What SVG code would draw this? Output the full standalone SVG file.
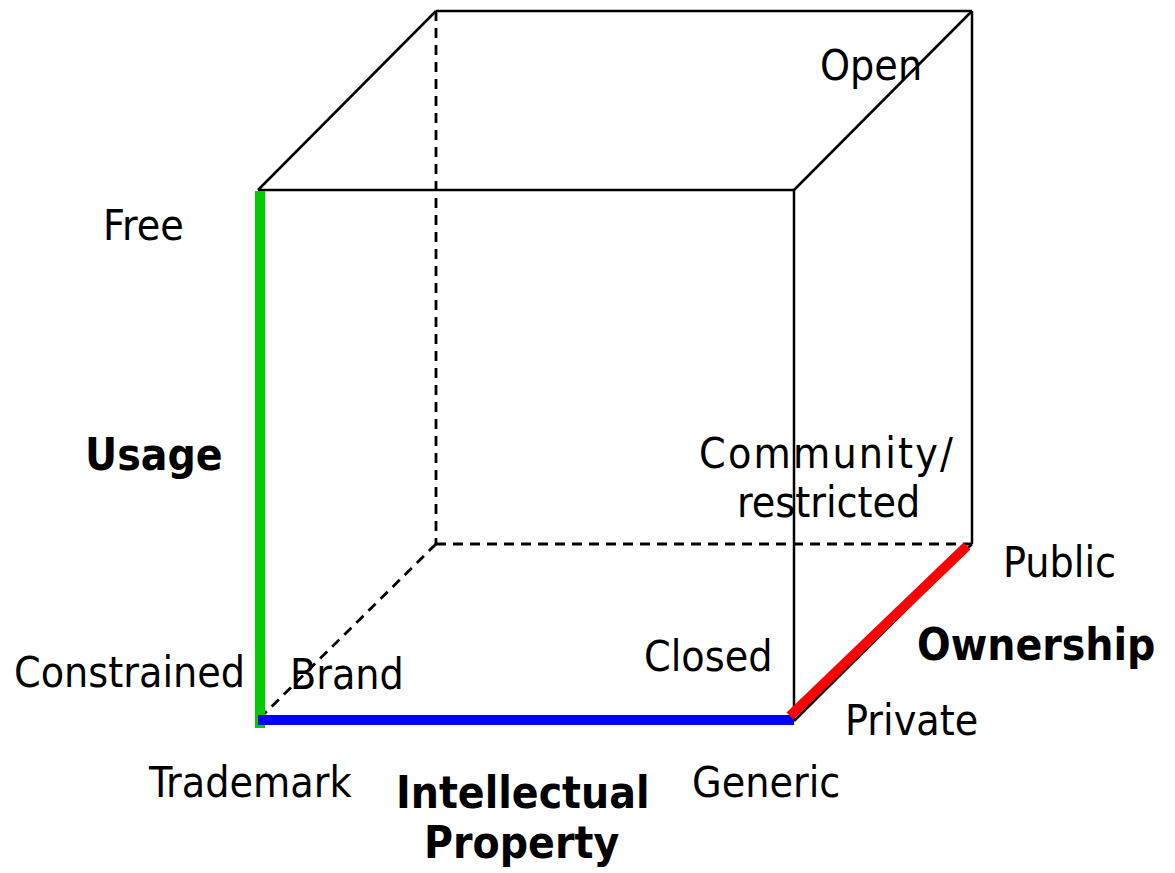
<svg xmlns="http://www.w3.org/2000/svg" width="1175" height="873" viewBox="0 0 1175 873">
<style>
.e{stroke:#000;stroke-width:2.5;fill:none}
.d{stroke:#000;stroke-width:2.8;fill:none;stroke-dasharray:10 7}
.t{font-family:"DejaVu Sans Condensed","DejaVu Sans",sans-serif;font-stretch:condensed;font-size:42.5px;fill:#000}
.b{font-family:"DejaVu Sans Condensed","DejaVu Sans",sans-serif;font-stretch:condensed;font-size:44px;font-weight:bold;fill:#000}
</style>
<rect width="1175" height="873" fill="#fff"/>
<g id="cube">
<line class="d" x1="436" y1="11" x2="436" y2="544"/>
<line class="d" x1="436" y1="544" x2="972" y2="544"/>
<line class="d" x1="436" y1="544" x2="258" y2="720"/>
<line class="e" x1="436" y1="11" x2="972" y2="11"/>
<line class="e" x1="972" y1="11" x2="972" y2="544"/>
<line class="e" x1="258" y1="190" x2="436" y2="11"/>
<line class="e" x1="794" y1="190" x2="972" y2="11"/>
<line class="e" x1="258" y1="190" x2="794" y2="190"/>
<line class="e" x1="794" y1="190" x2="794" y2="720"/>
<line class="e" x1="258" y1="722" x2="794" y2="722"/>
<line class="e" x1="794" y1="721" x2="972" y2="544"/>
</g>
<g id="axes">
<line id="usage-axis" x1="260" y1="191" x2="260" y2="728" stroke="#00cc00" stroke-width="10"/>
<line id="ip-axis" x1="258" y1="720" x2="794" y2="720" stroke="#0000ff" stroke-width="10"/>
<line id="ownership-axis" x1="790" y1="716" x2="967" y2="546" stroke="#ff0000" stroke-width="10"/>
</g>
<g id="labels">
<text class="t" x="103" y="240">Free</text>
<text class="b" x="85" y="470">Usage</text>
<text class="t" x="14" y="687">Constrained</text>
<text class="t" x="290" y="689">Brand</text>
<text class="t" x="644" y="671">Closed</text>
<text class="t" x="699" y="468" textLength="254">Community/</text>
<text class="t" x="737" y="517">restricted</text>
<text class="t" x="820" y="80">Open</text>
<text class="t" x="1003" y="577">Public</text>
<text class="b" x="917" y="660">Ownership</text>
<text class="t" x="845" y="735">Private</text>
<text class="t" x="149" y="797">Trademark</text>
<text class="b" x="396" y="808">Intellectual</text>
<text class="b" x="424" y="858">Property</text>
<text class="t" x="692" y="797">Generic</text>
</g>
</svg>
